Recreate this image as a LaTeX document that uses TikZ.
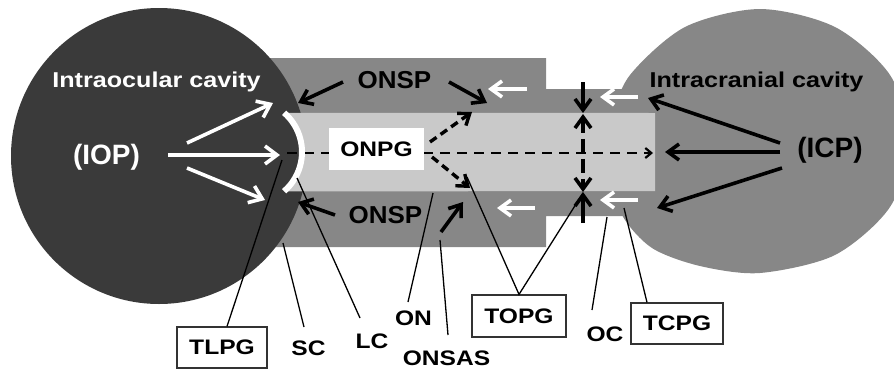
\documentclass[tikz,border=0pt]{standalone}
\usepackage{fontspec}
\setmainfont{Liberation Sans}[FakeStretch=1.17]
\newfontfamily\plainsans{Liberation Sans}
\newfontfamily\midsans{Liberation Sans}[FakeStretch=1.06]
\usetikzlibrary{arrows.meta}
\definecolor{eyedark}{HTML}{3A3A3A}
\definecolor{sheath}{HTML}{878787}
\definecolor{nerve}{HTML}{C9C9C9}
\begin{document}
\begin{tikzpicture}[x=1pt,y=-1pt,
  lbl/.style={font=\bfseries\fontsize{21}{24}\selectfont, inner sep=0pt, anchor=base},
  big/.style={font=\plainsans\bfseries\fontsize{28}{32}\selectfont, inner sep=0pt},
  onsp/.style={font=\midsans\bfseries\fontsize{24.5}{28}\selectfont, inner sep=0pt, anchor=base},
  boxed/.style={draw=black!80, line width=1.2pt, font=\bfseries\fontsize{21}{24}\selectfont, inner sep=0pt},
  leader/.style={line width=1.3pt},
  barr/.style={line width=3.6pt, -{Straight Barb[length=11pt,width=16pt]}},
  darr/.style={line width=3.4pt, dash pattern=on 8pt off 5pt, -{Straight Barb[length=10pt,width=15pt]}},
  warr/.style={white, line width=3.6pt, -{Straight Barb[length=12pt,width=18pt]}},
  wsarr/.style={white, line width=3.6pt, -{Straight Barb[length=11pt,width=16pt]}}
]
\useasboundingbox (0,0) rectangle (894,370);

% intracranial cavity
\fill[sheath] plot[smooth cycle] coordinates {(910,141) (890,207) (835,255) (760,273) (700,266) (652,248) (622,215) (610,170) (612,120) (630,75) (685,27) (760,9) (835,27) (890,75)};
% optic nerve sheath
\fill[sheath] (250,58) -- (546,58) -- (546,89) -- (660,89) -- (660,216) -- (546,216) -- (546,247) -- (250,247) -- cycle;
% intraocular cavity
\fill[eyedark] (159,156) circle[radius=148];
% optic nerve
\fill[nerve] (655,113) -- (284.1,112.8) arc[start angle=-49,end angle=49,radius=52] -- (655,191.2) -- cycle;

% axial dashed line
\draw[line width=2.2pt, dash pattern=on 10pt off 7pt, -{Straight Barb[length=6pt,width=10pt]}] (287,153) -- (653,153);
% lamina cribrosa
\draw[white, line width=6pt] (250,152) ++(-49:52) arc[start angle=-49,end angle=49,radius=52];

% texts
\node[lbl, white, font=\bfseries\fontsize{21.5}{24}\selectfont] (ioc) at (156.5,87) {Intraocular cavity};
\node[lbl, font=\bfseries\fontsize{21.5}{24}\selectfont] (icc) at (756.5,87) {Intracranial cavity};
\node[big, white] (iop) at (106.5,157) {(IOP)};
\node[big] (icp) at (830,150) {(ICP)};
\node[onsp] (onsp1) at (394.5,88) {ONSP};
\node[onsp] (onsp2) at (385.5,223) {ONSP};
\node[boxed, draw=none, fill=white, minimum width=95pt, minimum height=42pt] (onpg) at (376.5,149) {ONPG};

% white arrows from IOP
\draw[warr] (187,143) -- (273,103);
\draw[warr] (168,155) -- (280,155);
\draw[warr] (187,168) -- (265,200);

% ONSP arrows
\draw[barr] (343,82) -- (298,103);
\draw[barr] (449,82) -- (487,103);
\draw[barr] (335,215) -- (298,202);
\draw[barr] (441,232) -- (463,202);
% ONPG dashed arrows
\draw[darr] (430,142) -- (472,112);
\draw[darr] (432,157) -- (470,188);

% white arrows in the sheath
\draw[wsarr] (527,89) -- (488,89);
\draw[wsarr] (535,208) -- (497,208);
\draw[wsarr] (638,97) -- (600,97);
\draw[wsarr] (638,200) -- (600,200);

% optic canal arrows
\draw[barr] (583,82) -- (583,113);
\draw[line width=3.6pt, dash pattern=on 14pt off 6pt, {Straight Barb[length=11pt,width=16pt]}-{Straight Barb[length=11pt,width=16pt]}] (583,114) -- (583,192);
\draw[barr] (583,223) -- (583,192);

% ICP arrows
\draw[barr] (780,143) -- (648,98);
\draw[barr] (780,152) -- (665,152);
\draw[barr] (782,168) -- (657,208);

% labels
\node[boxed, minimum width=90pt, minimum height=41pt] (tlpg) at (222,347.5) {TLPG};
\node[lbl] (sc) at (308.5,355) {SC};
\node[lbl] (lc) at (372,348) {LC};
\node[lbl] (on) at (413.5,325) {ON};
\node[lbl] (onsas) at (446.5,365) {ONSAS};
\node[boxed, minimum width=94pt, minimum height=42pt] (topg) at (519,316) {TOPG};
\node[lbl] (oc) at (605,341) {OC};
\node[boxed, minimum width=92pt, minimum height=41pt] (tcpg) at (677,323.5) {TCPG};

% leader lines
\coordinate (tlpgT) at (282,160);
\coordinate (scA) at (304,327); \coordinate (scT) at (283,243);
\coordinate (lcA) at (360,318); \coordinate (lcT) at (297,178);
\coordinate (onA) at (408,302); \coordinate (onT) at (433,193);
\coordinate (onsasA) at (448,335); \coordinate (onsasT) at (440,240);
\coordinate (topgT1) at (467,177); \coordinate (topgT2) at (583,193);
\coordinate (ocA) at (592,310); \coordinate (ocT) at (607,217);
\coordinate (tcpgT) at (624,208);
\draw[leader] ([xshift=5pt]tlpg.north) -- (tlpgT);
\draw[leader] (scA) -- (scT);
\draw[leader] (lcA) -- (lcT);
\draw[leader] (onA) -- (onT);
\draw[leader] (onsasA) -- (onsasT);
\draw[leader] (topgT1) -- (topg.north) -- (topgT2);
\draw[leader] (ocA) -- (ocT);
\draw[leader] ([xshift=-30pt]tcpg.north) -- (tcpgT);
\end{tikzpicture}
\end{document}
